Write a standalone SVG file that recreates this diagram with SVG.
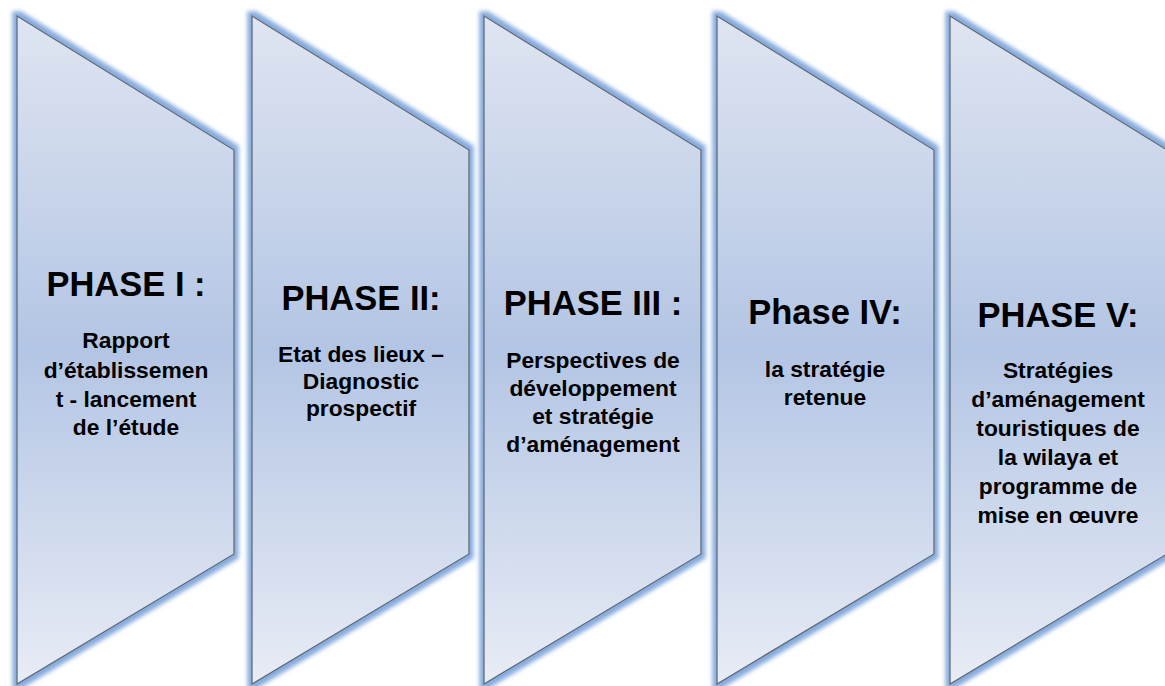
<svg xmlns="http://www.w3.org/2000/svg" width="1165" height="686" viewBox="0 0 1165 686">
<defs>
<linearGradient id="fill" gradientUnits="userSpaceOnUse" x1="0" y1="16" x2="0" y2="684">
<stop offset="0" stop-color="#dfe5f1"/>
<stop offset="0.5" stop-color="#b3c5e4"/>
<stop offset="1" stop-color="#e8ecf5"/>
</linearGradient>
<filter id="glow" x="-10%" y="-10%" width="120%" height="120%">
<feMorphology in="SourceAlpha" operator="dilate" radius="4" result="d"/>
<feGaussianBlur in="d" stdDeviation="2.2" result="b"/>
<feFlood flood-color="#86abdc" flood-opacity="1"/>
<feComposite in2="b" operator="in" result="g"/>
<feMerge><feMergeNode in="g"/><feMergeNode in="SourceGraphic"/></feMerge>
</filter>
</defs>
<style>
.shape{fill:url(#fill);stroke:#636a75;stroke-width:1.3;filter:url(#glow)}
.t{font-family:"Liberation Sans",Arial,sans-serif;font-weight:bold;fill:#000;text-anchor:middle}
.title{font-size:34.5px}
.sub{font-size:22.8px}
</style>
<rect width="1165" height="686" fill="#fff"/>
<g id="phase1">
<polygon class="shape" points="17,16 234,150 234,554 17,684"/>
<text class="t title" x="126" y="296">PHASE I :</text>
<text class="t sub" x="126" y="348">Rapport</text>
<text class="t sub" x="126" y="378">d’établissemen</text>
<text class="t sub" x="126" y="407">t - lancement</text>
<text class="t sub" x="126" y="435">de l’étude</text>
</g>
<g id="phase2">
<polygon class="shape" points="252,16 469,150 469,554 252,684"/>
<text class="t title" x="361" y="310">PHASE II:</text>
<text class="t sub" x="361" y="362">Etat des lieux –</text>
<text class="t sub" x="361" y="389">Diagnostic</text>
<text class="t sub" x="361" y="416">prospectif</text>
</g>
<g id="phase3">
<polygon class="shape" points="484,16 701,150 701,554 484,684"/>
<text class="t title" x="593" y="315">PHASE III :</text>
<text class="t sub" x="593" y="368">Perspectives de</text>
<text class="t sub" x="593" y="396">développement</text>
<text class="t sub" x="593" y="424">et stratégie</text>
<text class="t sub" x="593" y="452">d’aménagement</text>
</g>
<g id="phase4">
<polygon class="shape" points="717,16 934,150 934,554 717,684"/>
<text class="t title" x="825" y="324">Phase IV:</text>
<text class="t sub" x="825" y="377">la stratégie</text>
<text class="t sub" x="825" y="405">retenue</text>
</g>
<g id="phase5">
<polygon class="shape" points="950,16 1167,150 1167,554 950,684"/>
<text class="t title" x="1058" y="327">PHASE V:</text>
<text class="t sub" x="1058" y="378">Stratégies</text>
<text class="t sub" x="1058" y="407">d’aménagement</text>
<text class="t sub" x="1058" y="436">touristiques de</text>
<text class="t sub" x="1058" y="465">la wilaya et</text>
<text class="t sub" x="1058" y="494">programme de</text>
<text class="t sub" x="1058" y="523">mise en œuvre</text>
</g>
<g id="connectors"/>
</svg>
